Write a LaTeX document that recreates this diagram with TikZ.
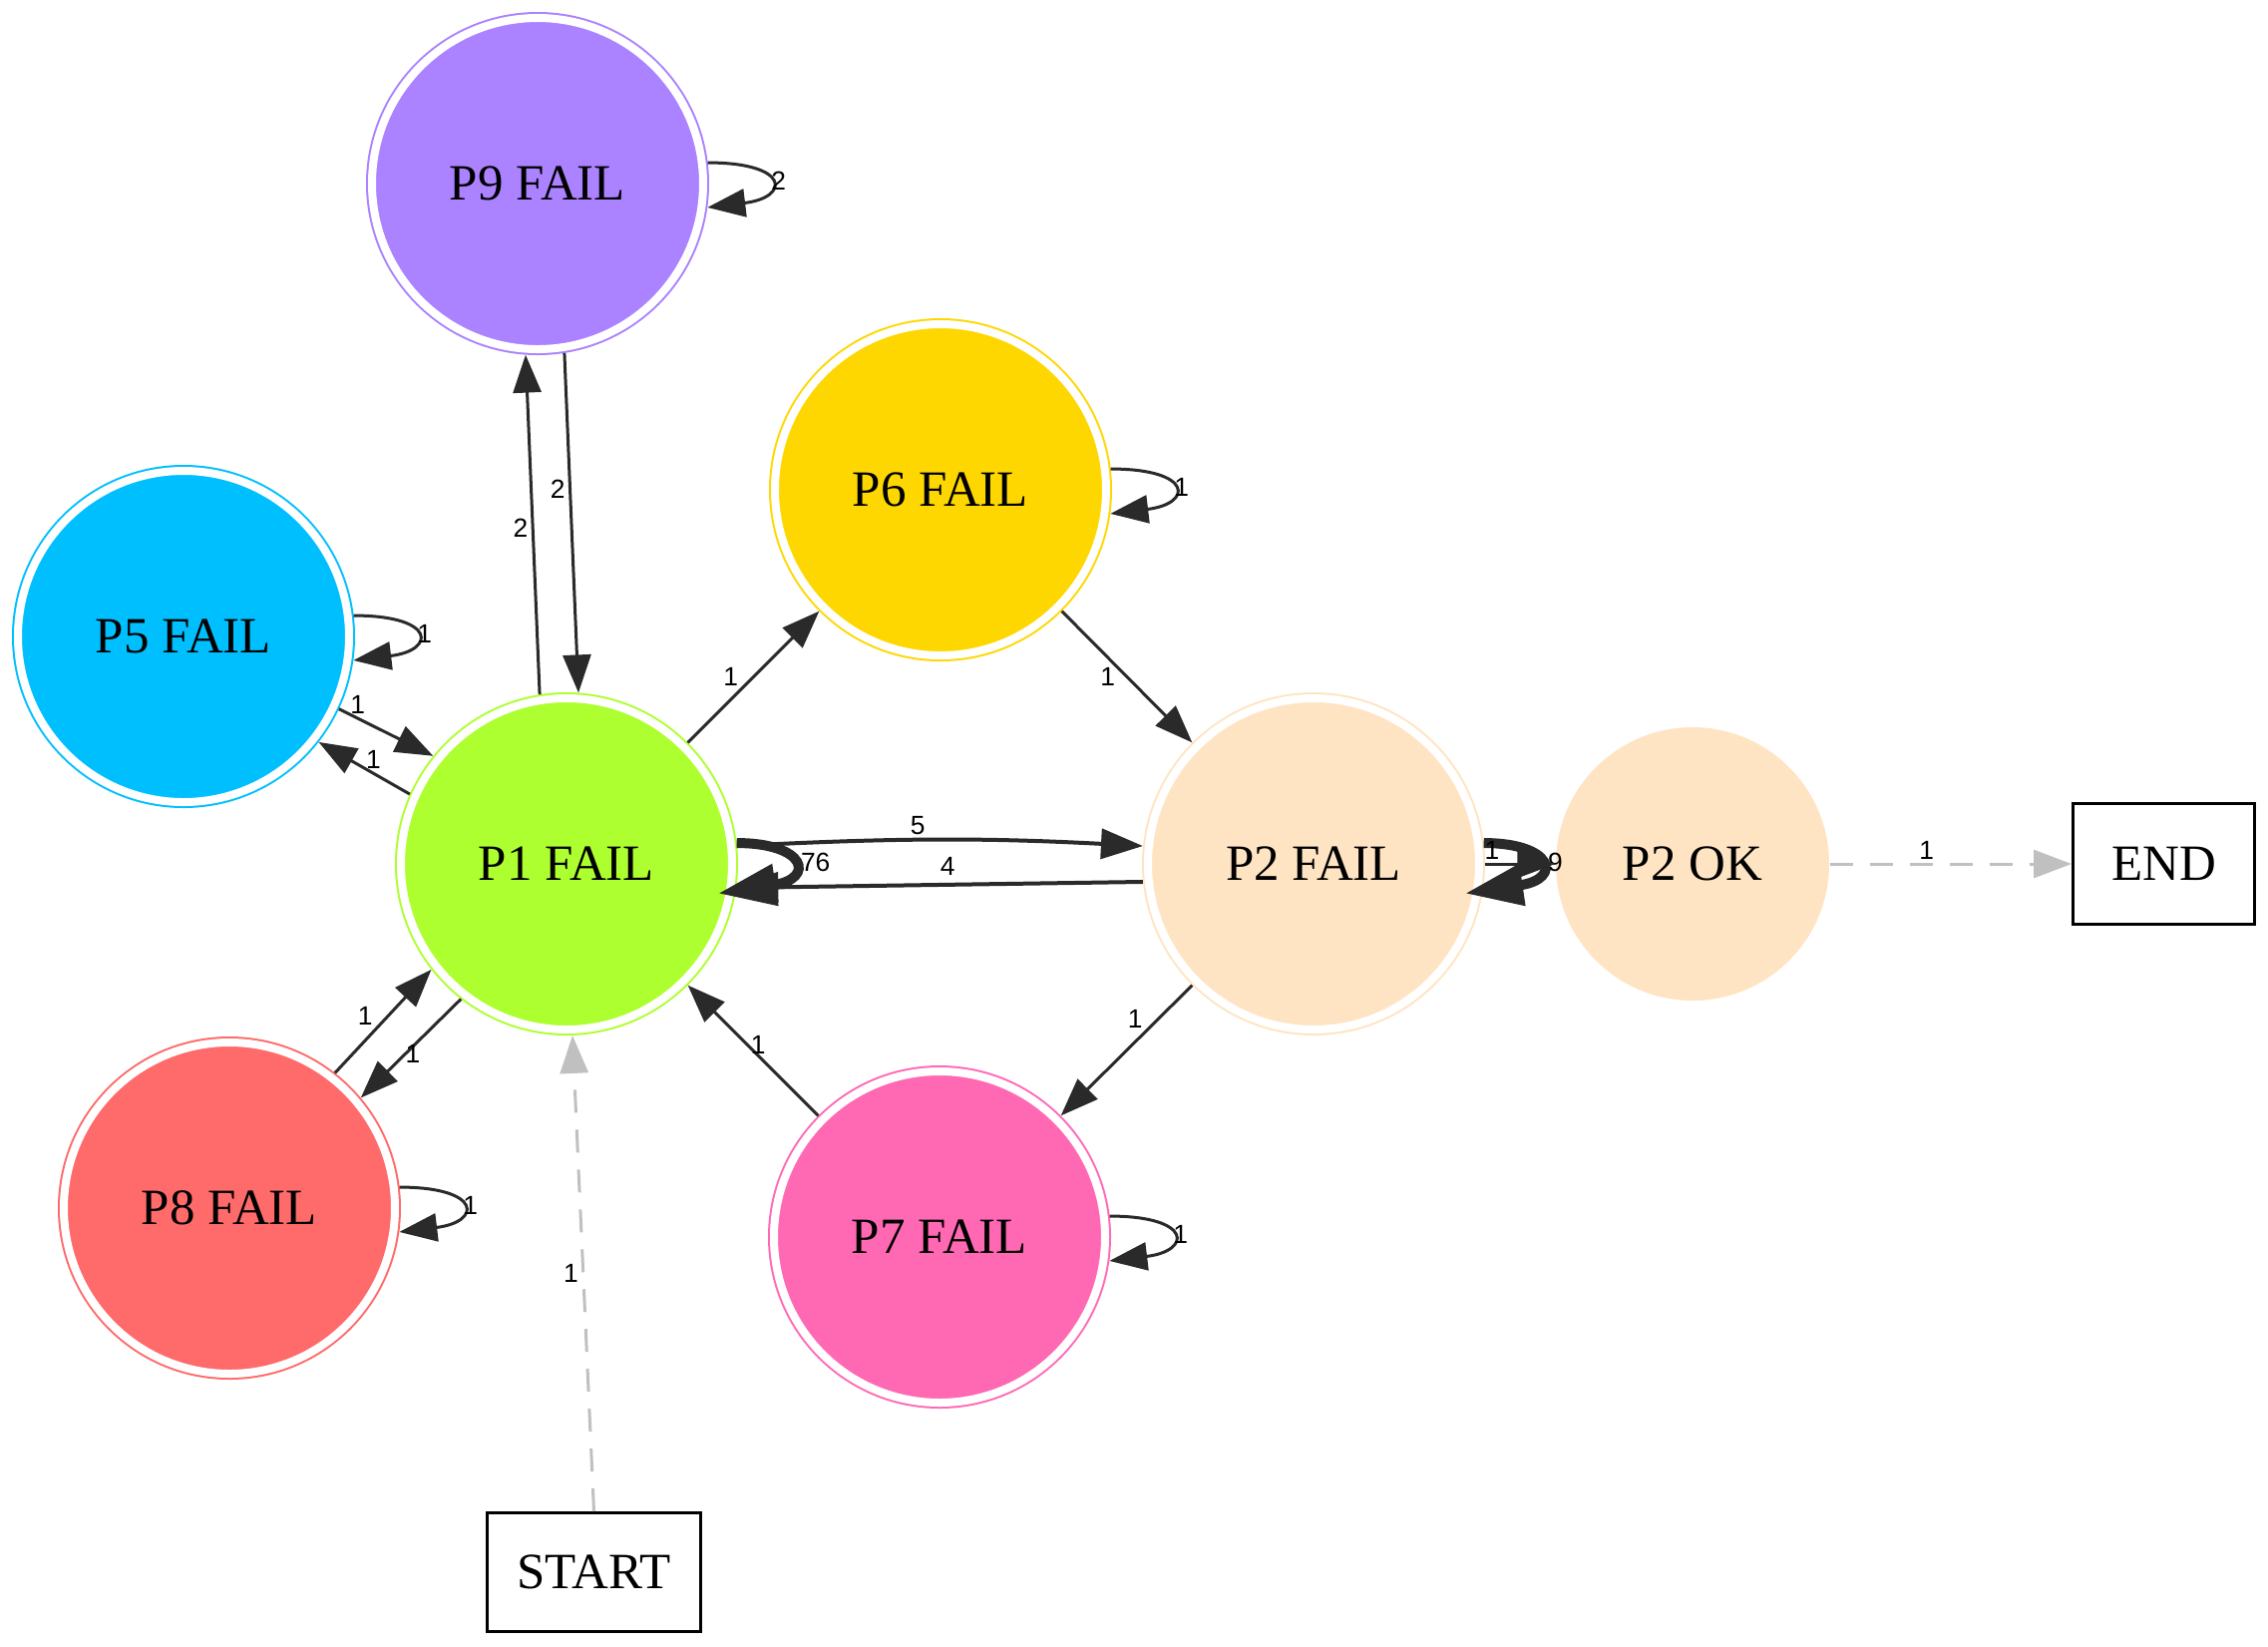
\documentclass[tikz,border=0pt]{standalone}
\usepackage{fontspec}
\setmainfont{Liberation Serif}
\newfontfamily\lblfont{Liberation Sans}
\usepackage{tikz}
\usetikzlibrary{positioning, arrows.meta}

\definecolor{p1col}{HTML}{ADFF2F}
\definecolor{p2col}{HTML}{FFE4C4}
\definecolor{p5col}{HTML}{00BFFF}
\definecolor{p6col}{HTML}{FFD700}
\definecolor{p7col}{HTML}{FF69B4}
\definecolor{p8col}{HTML}{FF6A6A}
\definecolor{p9col}{HTML}{AB82FF}
\definecolor{edgecol}{HTML}{2A2A2A}
\definecolor{dashcol}{HTML}{C0C0C0}

\tikzset{>={Triangle[length=0.38cm,width=0.28cm]}}
\tikzset{
    failstate/.style={circle, draw=#1, fill=#1, double=white, double distance=0.08cm, line width=0.02cm, minimum size=3.32cm, inner sep=0pt, outer sep=0.06cm, font=\fontsize{14.5}{17}\selectfont},
    termbox/.style={rectangle, draw=black, line width=0.03cm, inner sep=0pt, font=\fontsize{14.5}{17}\selectfont},
    trans/.style={draw=edgecol, line width=0.03cm, ->},
    heavy/.style={draw=edgecol, line width=0.1cm, -{Triangle[length=0.58cm,width=0.4cm]}, shorten >=-0.18cm},
    dashtrans/.style={draw=dashcol, line width=0.03cm, dash pattern=on 0.23cm off 0.17cm, ->},
    lbl/.style={font=\lblfont\fontsize{7.5}{9}\selectfont, inner sep=1pt, text=black}
}

\begin{document}
\begin{tikzpicture}[on grid]
    \useasboundingbox (0,0) rectangle (22.74,-16.5);

    \node[failstate=p1col] (p1) at (5.68,-8.66) {P1 FAIL};
    \node[failstate=p9col, above left=6.82cm and 0.29cm of p1] (p9) {P9 FAIL};
    \node[failstate=p5col, above left=2.28cm and 3.84cm of p1] (p5) {P5 FAIL};
    \node[failstate=p8col, below left=3.45cm and 3.38cm of p1] (p8) {P8 FAIL};
    \node[failstate=p6col, above right=3.75cm and 3.75cm of p1] (p6) {P6 FAIL};
    \node[failstate=p7col, below right=3.74cm and 3.74cm of p1] (p7) {P7 FAIL};
    \node[failstate=p2col, right=7.49cm of p1] (p2) {P2 FAIL};
    \node[circle, fill=p2col, minimum size=2.74cm, inner sep=0pt, font=\fontsize{14.5}{17}\selectfont, right=3.80cm of p2] (p2ok) {P2 OK};
    \node[termbox, minimum width=1.82cm, minimum height=1.21cm, right=4.725cm of p2ok] (finish) {END};
    \node[termbox, minimum width=2.14cm, minimum height=1.19cm, below right=7.10cm and 0.275cm of p1] (start) {START};

    \draw[trans] (p1.99) -- (p9.266) node[lbl, pos=0.49, left] {2};
    \draw[trans] (p9.279) -- (p1.86) node[lbl, pos=0.4, left] {2};
    \draw[trans] (p5.-25) -- (p1.141) node[lbl, pos=0.2, above] {1};
    \draw[trans] (p1.156) -- (p5.-38) node[lbl, pos=0.4, above] {1};
    \draw[trans] (p8.52) -- (p1.218) node[lbl, pos=0.55, left=3pt] {1};
    \draw[trans] (p1.232) -- (p8.40) node[lbl, pos=0.55, xshift=2pt] {1};
    \draw[trans] (p1.45) -- (p6.225) node[lbl, pos=0.5, left=3pt] {1};
    \draw[trans] (p6.-45) -- (p2.135) node[lbl, pos=0.5, left=2pt] {1};
    \draw[trans] (p2.225) -- (p7.45) node[lbl, pos=0.26, left=3pt] {1};
    \draw[trans] (p7.135) -- (p1.-45) node[lbl, pos=0.54, xshift=3pt] {1};

    \draw[trans, line width=0.04cm, -{Triangle[length=0.42cm,width=0.3cm]}] (p1.6) to[bend left=3] node[lbl, pos=0.44, above] {5} (p2.174);
    \draw[trans, line width=0.04cm, -{Triangle[length=0.42cm,width=0.3cm]}] (p2.186) -- (p1.-8) node[lbl, pos=0.48, above=1pt] {4};

    % self loops
    \draw[trans] (p9.7) .. controls +(0.83,0) and +(0.83,0.1) .. (p9.-8) node[lbl, pos=0.5, right, inner sep=0pt] {2};
    \draw[trans] (p5.7) .. controls +(0.83,0) and +(0.83,0.1) .. (p5.-8) node[lbl, pos=0.5, right, inner sep=0pt] {1};
    \draw[trans] (p6.7) .. controls +(0.83,0) and +(0.83,0.1) .. (p6.-8) node[lbl, pos=0.5, right, inner sep=0pt] {1};
    \draw[trans] (p7.7) .. controls +(0.83,0) and +(0.83,0.1) .. (p7.-8) node[lbl, pos=0.5, right, inner sep=0pt] {1};
    \draw[trans] (p8.7) .. controls +(0.83,0) and +(0.83,0.1) .. (p8.-8) node[lbl, pos=0.5, right, inner sep=0pt] {1};
    \draw[heavy] (p1.7) .. controls +(0.7,0) and +(0.8,0.12) .. (p1.-9) node[lbl, pos=0.5, right] {76};
    \draw[heavy] (p2.7) .. controls +(0.7,0) and +(0.8,0.12) .. (p2.-9) node[lbl, pos=0.5, right] {9};

    \draw[trans] (p2) -- (p2ok) node[lbl, pos=0.1, above] {1};
    \draw[dashtrans] (start.north) -- (p1.-88) node[lbl, midway, left] {1};
    \draw[dashtrans] (p2ok) -- (finish) node[lbl, pos=0.4, above] {1};
\end{tikzpicture}
\end{document}
